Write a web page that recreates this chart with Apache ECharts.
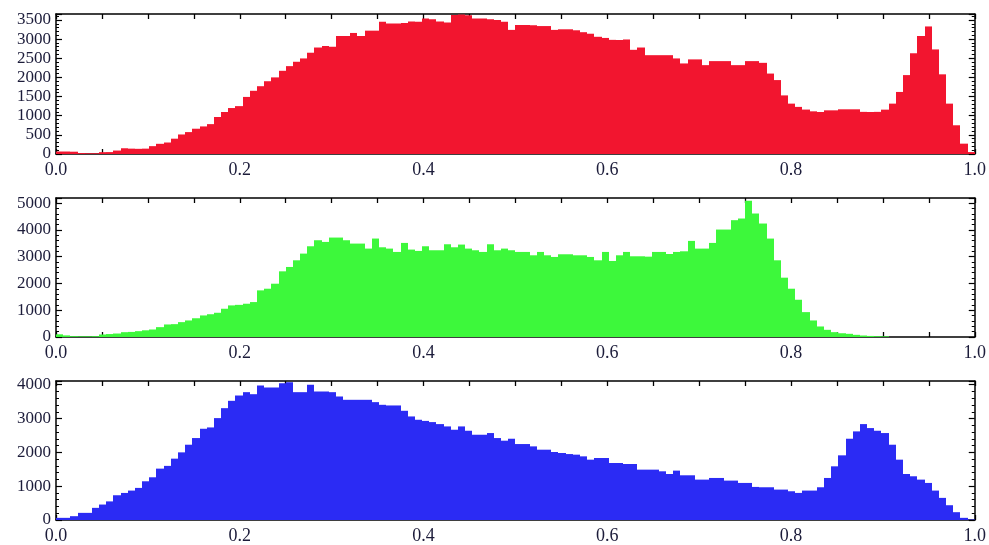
<!DOCTYPE html>
<html>
<head>
<meta charset="utf-8">
<script src="https://cdn.jsdelivr.net/npm/echarts@6/dist/echarts.min.js"></script>
<style>
html,body{margin:0;padding:0;background:#fff;}
#chart{width:989px;height:545px;}
</style>
</head>
<body>
<div id="chart"></div>
<script>
// Histogram of three colour channels, 128 bins over [0, 1]
const BIN_COUNT = 128;
const xTickLabels = ['0.0', '0.2', '0.4', '0.6', '0.8', '1.0'];

const redCounts = [
  65, 65, 60, 25, 20, 20, 48, 50, 90, 150, 140, 135, 140, 205, 266, 300,
  400, 510, 572, 660, 720, 780, 966, 1097, 1200, 1250, 1490, 1650, 1770, 1900, 2000, 2172,
  2294, 2408, 2495, 2644, 2780, 2820, 2800, 3080, 3080, 3160, 3080, 3220, 3220, 3450, 3410, 3410,
  3420, 3460, 3450, 3540, 3520, 3460, 3430, 3630, 3640, 3620, 3540, 3540, 3520, 3500, 3450, 3240,
  3370, 3370, 3360, 3340, 3340, 3240, 3256, 3256, 3230, 3180, 3140, 3060, 3030, 2980, 2976, 2990,
  2720, 2780, 2580, 2580, 2580, 2580, 2495, 2364, 2470, 2470, 2320, 2425, 2425, 2425, 2320, 2320,
  2425, 2425, 2380, 2100, 1930, 1530, 1315, 1230, 1160, 1114, 1097, 1140, 1140, 1167, 1167, 1167,
  1100, 1097, 1100, 1158, 1315, 1620, 2060, 2630, 3080, 3330, 2730, 2080, 1315, 750, 270, 50
];

const greenCounts = [
  100, 60, 30, 25, 25, 30, 94, 110, 130, 180, 190, 218, 250, 280, 368, 468,
  480, 555, 618, 700, 805, 850, 905, 1055, 1180, 1200, 1242, 1304, 1741, 1803, 1990, 2452,
  2615, 2864, 3114, 3388, 3613, 3550, 3713, 3713, 3613, 3488, 3488, 3301, 3676, 3350, 3301, 3176,
  3513, 3264, 3214, 3388, 3239, 3239, 3463, 3350, 3451, 3301, 3239, 3176, 3463, 3239, 3301, 3239,
  3176, 3176, 3051, 3176, 3051, 2989, 3089, 3089, 3051, 3051, 2989, 2864, 3176, 2839, 3051, 3176,
  3014, 3014, 3000, 3176, 3176, 3100, 3176, 3200, 3588, 3300, 3301, 3513, 4012, 4012, 4362, 4424,
  5086, 4611, 4237, 3675, 2864, 2215, 1803, 1391, 929, 618, 393, 268, 181, 140, 119, 81,
  56, 40, 30, 25, 0, 0, 0, 0, 0, 0, 0, 0, 0, 0, 0, 0
];

const blueCounts = [
  64, 64, 113, 211, 211, 359, 457, 550, 732, 800, 870, 949, 1145, 1263, 1519, 1600,
  1814, 2000, 2226, 2423, 2698, 2737, 3013, 3307, 3524, 3681, 3780, 3720, 3976, 3917, 3917, 4045,
  4074, 3780, 3780, 3996, 3799, 3799, 3780, 3652, 3554, 3554, 3554, 3554, 3485, 3406, 3387, 3387,
  3229, 3062, 2964, 2930, 2895, 2836, 2767, 2669, 2767, 2639, 2521, 2521, 2571, 2423, 2345, 2403,
  2246, 2246, 2177, 2079, 2079, 2010, 1981, 1950, 1932, 1882, 1784, 1833, 1833, 1686, 1686, 1656,
  1656, 1489, 1489, 1489, 1440, 1361, 1460, 1322, 1322, 1194, 1194, 1243, 1243, 1165, 1165, 1096,
  1096, 978, 968, 968, 899, 899, 850, 801, 870, 870, 968, 1243, 1587, 1912, 2403, 2620,
  2836, 2718, 2639, 2571, 2226, 1784, 1361, 1293, 1194, 1096, 870, 654, 437, 231, 64, 15
];

const panels = [
  { counts: redCounts,   color: '#F2152F', yMax: 3655, yStep: 500 },
  { counts: greenCounts, color: '#3DF83B', yMax: 5190, yStep: 1000 },
  { counts: blueCounts,  color: '#2B2BF4', yMax: 4110, yStep: 1000 }
];

const gridTops = [14, 198, 381];
const gridHeights = [140, 139, 140];
const labelColor = '#1c1c3a';
const fontFam = '"Liberation Serif", "DejaVu Serif", serif';

const chart = echarts.init(document.getElementById('chart'), null, { renderer: 'canvas' });

const grid = [], xAxis = [], yAxis = [], series = [];
panels.forEach((p, k) => {
  grid.push({ left: 56, width: 921, top: gridTops[k], height: gridHeights[k], show: false });
  // bottom x axis with labels
  xAxis.push({
    type: 'value', gridIndex: k, min: 0, max: 1, interval: 0.2, position: 'bottom',
    axisLine: { show: true, onZero: false, lineStyle: { color: '#000', width: 1.5 } },
    axisTick: { show: true, inside: true, length: 5, lineStyle: { color: '#000', width: 1.3 } },
    minorTick: { show: true, splitNumber: 4, length: 5, lineStyle: { color: '#000', width: 1.3 } },
    axisLabel: { show: true, margin: 7, color: labelColor, fontFamily: fontFam, fontSize: 18,
      formatter: v => xTickLabels[Math.round(v / 0.2)] },
    splitLine: { show: false }
  });
  // top frame axis
  xAxis.push({
    type: 'value', gridIndex: k, min: 0, max: 1, interval: 0.05, position: 'top',
    axisLine: { show: true, onZero: false, lineStyle: { color: '#000', width: 1.5 } },
    axisTick: { show: true, inside: true, length: 5, lineStyle: { color: '#000', width: 1.3 } },
    axisLabel: { show: false }, splitLine: { show: false }
  });
  const step = p.yStep;
  yAxis.push({
    type: 'value', gridIndex: k, min: 0, max: p.yMax, interval: step, position: 'left',
    axisLine: { show: true, onZero: false, lineStyle: { color: '#000', width: 1.5 } },
    axisTick: { show: true, inside: true, length: 6, lineStyle: { color: '#000', width: 1.2 } },
    minorTick: { show: true, splitNumber: 5, length: 3, lineStyle: { color: '#000', width: 1 } },
    axisLabel: { show: true, margin: 5, color: labelColor, fontFamily: fontFam, fontSize: 17,
      formatter: v => (Math.abs(v % step) < 1e-6 ? String(v) : '') },
    splitLine: { show: false }
  });
  yAxis.push({
    type: 'value', gridIndex: k, min: 0, max: p.yMax, interval: step, position: 'right',
    axisLine: { show: true, onZero: false, lineStyle: { color: '#000', width: 1.5 } },
    axisTick: { show: true, inside: true, length: 6, lineStyle: { color: '#000', width: 1.2 } },
    minorTick: { show: true, splitNumber: 5, length: 3, lineStyle: { color: '#000', width: 1 } },
    axisLabel: { show: false }, splitLine: { show: false }
  });
  const data = p.counts.map((c, i) => [i / BIN_COUNT, (i + 1) / BIN_COUNT, c]);
  series.push({
    type: 'custom',
    xAxisIndex: 2 * k, yAxisIndex: 2 * k,
    data: data,
    clip: true,
    z: 1,
    renderItem: (params, api) => {
      const p0 = api.coord([api.value(0), 0]);
      const p1 = api.coord([api.value(1), api.value(2)]);
      const xl = Math.round(p0[0]);
      const xr = Math.round(p1[0]);
      return {
        type: 'rect',
        shape: { x: xl, y: p1[1], width: xr - xl, height: p0[1] - p1[1] },
        style: { fill: p.color }
      };
    },
    silent: true,
    animation: false
  });
});

chart.setOption({
  animation: false,
  backgroundColor: '#ffffff',
  grid, xAxis, yAxis, series
});
</script>
</body>
</html>
